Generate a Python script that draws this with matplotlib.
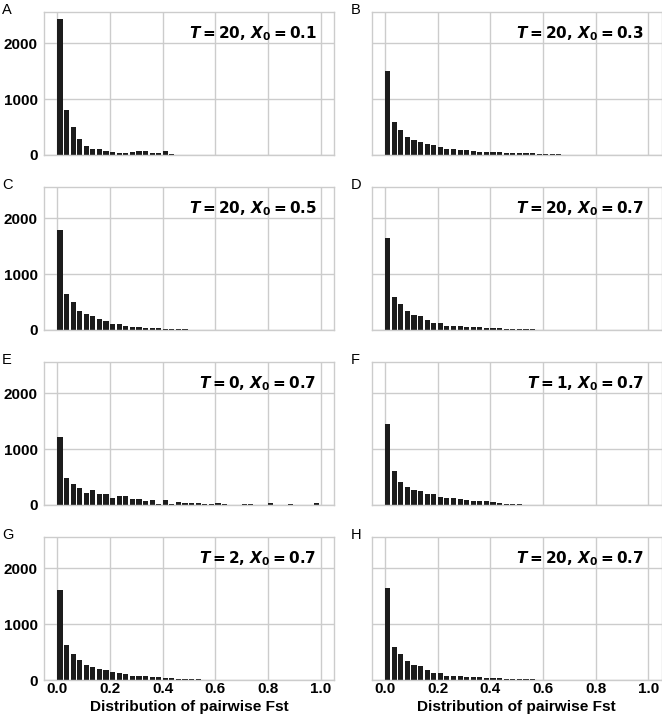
import numpy as np
import matplotlib
matplotlib.use("Agg")
import matplotlib.pyplot as plt

plt.rcParams['font.family'] = ['Liberation Sans', 'DejaVu Sans']
plt.rcParams['mathtext.fontset'] = 'dejavusans'

# bin left edges (40 bins of width 0.025 over [0, 1])
bin_edges = np.linspace(0, 1, 41)

letters = ["A", "B", "C", "D", "E", "F", "G", "H"]
T_values = ["20", "20", "20", "20", "0", "1", "2", "20"]
X0_values = ["0.1", "0.3", "0.5", "0.7", "0.7", "0.7", "0.7", "0.7"]

counts_A = [2440, 810, 494, 280, 160, 107, 107, 60, 48, 36, 30, 54, 60, 60, 30, 36, 71, 15,
            0, 0, 0, 0, 0, 0, 0, 0, 0, 0, 0, 0, 0, 0, 0, 0, 0, 0, 0, 0, 0, 0]
counts_B = [1510, 583, 452, 327, 274, 232, 202, 173, 137, 113, 101, 89, 83, 65, 54, 54, 54, 42,
            36, 30, 30, 24, 24, 18, 12, 12, 12, 0, 0, 0, 0, 0, 0, 0, 0, 0, 0, 0, 0, 0]
counts_C = [1790, 643, 494, 345, 286, 250, 190, 155, 107, 107, 71, 60, 48, 36, 36, 30, 24, 18,
            12, 12, 6, 6, 3, 0, 0, 0, 0, 0, 0, 0, 0, 0, 0, 0, 0, 0, 0, 0, 0, 0]
counts_D = [1642, 583, 464, 345, 268, 244, 184, 131, 125, 77, 71, 65, 60, 54, 48, 42, 36, 30,
            24, 24, 18, 12, 12, 6, 6, 6, 3, 0, 0, 0, 0, 0, 0, 0, 0, 0, 0, 0, 0, 0]
counts_E = [1220, 474, 384, 312, 210, 270, 192, 192, 126, 168, 162, 108, 102, 78, 96, 18, 90, 24,
            60, 30, 30, 30, 12, 12, 42, 18, 6, 0, 24, 24, 0, 0, 36, 0, 0, 12, 0, 0, 0, 36]
counts_F = [1452, 615, 406, 322, 266, 248, 190, 188, 134, 122, 116, 110, 86, 78, 70, 64, 60, 36,
            24, 18, 12, 6, 6, 0, 0, 0, 0, 0, 0, 0, 0, 0, 0, 0, 0, 0, 0, 0, 0, 0]
counts_G = [1607, 631, 464, 351, 274, 232, 190, 179, 137, 131, 107, 77, 77, 65, 60, 54, 42, 30,
            24, 18, 12, 12, 6, 3, 3, 2, 2, 1, 0, 0, 0, 0, 0, 0, 0, 0, 0, 0, 0, 0]
counts_H = [1642, 583, 464, 340, 262, 244, 184, 131, 125, 77, 71, 65, 60, 54, 48, 42, 36, 30,
            24, 18, 18, 12, 12, 6, 6, 6, 3, 0, 0, 0, 0, 0, 0, 0, 0, 0, 0, 0, 0, 0]

all_counts = [counts_A, counts_B, counts_C, counts_D, counts_E, counts_F, counts_G, counts_H]

x_ticks = [0.0, 0.2, 0.4, 0.6, 0.8, 1.0]
x_tick_labels = ["0.0", "0.2", "0.4", "0.6", "0.8", "1.0"]
y_ticks = [0, 1000, 2000]
y_tick_labels = ["0", "1000", "2000"]

W, H = 662, 717
fig, axes = plt.subplots(4, 2, figsize=(W / 100, H / 100), dpi=100, sharex=True, sharey=True)
fig.subplots_adjust(left=44.2 / W, right=0.9995, bottom=1 - 680 / H, top=1 - 11.7 / H,
                    wspace=0.131, hspace=0.223)

grid_col = '#cccccc'
bar_col = '#1c1c1c'
bw = 0.025

for i, ax in enumerate(axes.flat):
    counts = all_counts[i]
    ax.set_axisbelow(True)
    ax.grid(True, color=grid_col, linewidth=1.0)
    ax.bar(bin_edges[:-1], counts, width=bw * 0.78, align='edge', color=bar_col, linewidth=0)
    ax.set_xlim(-0.05, 1.05)
    ax.set_ylim(0, 2565)
    ax.set_xticks(x_ticks)
    ax.set_yticks(y_ticks)
    for s in ax.spines.values():
        s.set_color(grid_col)
        s.set_linewidth(1.0)
    ax.tick_params(axis='y', length=0, labelsize=11, pad=4.5)
    ax.tick_params(axis='x', length=0, labelsize=11, pad=1.5)
    label = (r'$\mathbfit{T}\mathbf{=' + T_values[i] + r',}\,\mathbfit{X}_\mathbf{0}\mathbf{='
             + X0_values[i] + r'}$')
    ax.text(0.94, 0.85, label, transform=ax.transAxes, ha='right', va='center', fontsize=11)
    col = i % 2
    lx = -0.145 if col == 0 else -0.072
    ax.text(lx, 1.06, letters[i], transform=ax.transAxes, ha='left', va='top', fontsize=10.5)

for ax in axes[:, 0]:
    ax.set_yticklabels(y_tick_labels, fontweight='bold')
for ax in axes[-1, :]:
    ax.set_xticklabels(x_tick_labels, fontweight='bold')
    ax.set_xlabel('Distribution of pairwise Fst', fontsize=11.1, fontweight='bold')
    ax.xaxis.set_label_coords(0.5, -(699.6 - 680) / 142.7)

fig.savefig('out.png', dpi=100)
